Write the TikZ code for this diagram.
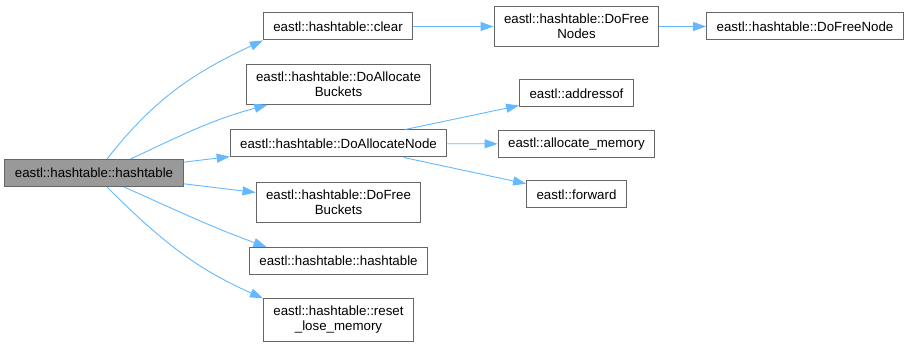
\documentclass[tikz,border=0pt]{standalone}
\usepackage{fontspec}
\setmainfont{Liberation Sans}
\usepackage{tikz}
\usetikzlibrary{arrows.meta}
\definecolor{edgeblue}{HTML}{63B8FF}
\definecolor{boxgrey}{HTML}{666666}
\definecolor{rootgrey}{HTML}{999999}
\newcommand{\cgnode}[3] {\node at (#1) (#2) [fn] {#3};}
\newcommand{\cgrootnode}[3] {\node at (#1) (#2) [fn, fill=rootgrey] {#3};}
\newcommand{\cgcall}[2] {\draw [call] (#1) -- (#2);}
\newcommand{\cgarccall}[4] {\draw [call] (#1) to[out=#3, in=#4] (#2);}

\begin{document}
\begin{tikzpicture}[x=1pt, y=1pt,
  fn/.style={draw=boxgrey, line width=1pt, fill=white, align=center,
    inner xsep=10pt, inner ysep=7.5pt, minimum height=27pt,
    font=\fontsize{13.3}{15}\selectfont},
  call/.style={draw=edgeblue, line width=0.9pt, -{Triangle[length=13pt, width=9pt]}}]
\useasboundingbox (0,0) rectangle (908,347);

\cgrootnode {94,174}{root}{eastl::hashtable::hashtable};
\cgnode {338,320.5}{clear}{eastl::hashtable::clear};
\cgnode {338.5,262.5}{allocbuckets}{eastl::hashtable::DoAllocate\\Buckets};
\cgnode {338.5,203.5}{allocnode}{eastl::hashtable::DoAllocateNode};
\cgnode {338.5,144.5}{freebuckets}{eastl::hashtable::DoFree\\Buckets};
\cgnode {338.5,86}{ctor}{eastl::hashtable::hashtable};
\cgnode {338.5,27}{reset}{eastl::hashtable::reset\\\_lose\_memory};
\cgnode {576.5,320.5}{freenodes}{eastl::hashtable::DoFree\\Nodes};
\cgnode {805,320.5}{freenode}{eastl::hashtable::DoFreeNode};
\cgnode {576.5,253.5}{addressof}{eastl::addressof};
\cgnode {576.5,203}{allocmem}{eastl::allocate\_memory};
\cgnode {576.5,152.5}{forward}{eastl::forward};

\cgarccall{root.47}{clear.south west}{52}{205};
\cgarccall{root.21}{allocbuckets.196}{25}{195};
\cgcall{root}{allocnode};
\cgcall{root}{freebuckets};
\cgarccall{root.335}{ctor.169}{-24}{160};
\cgarccall{root.313}{reset.north west}{-45}{156};
\cgcall{clear}{freenodes};
\cgcall{freenodes}{freenode};
\cgcall{allocnode}{addressof};
\cgcall{allocnode}{allocmem};
\cgcall{allocnode}{forward};
\end{tikzpicture}
\end{document}
